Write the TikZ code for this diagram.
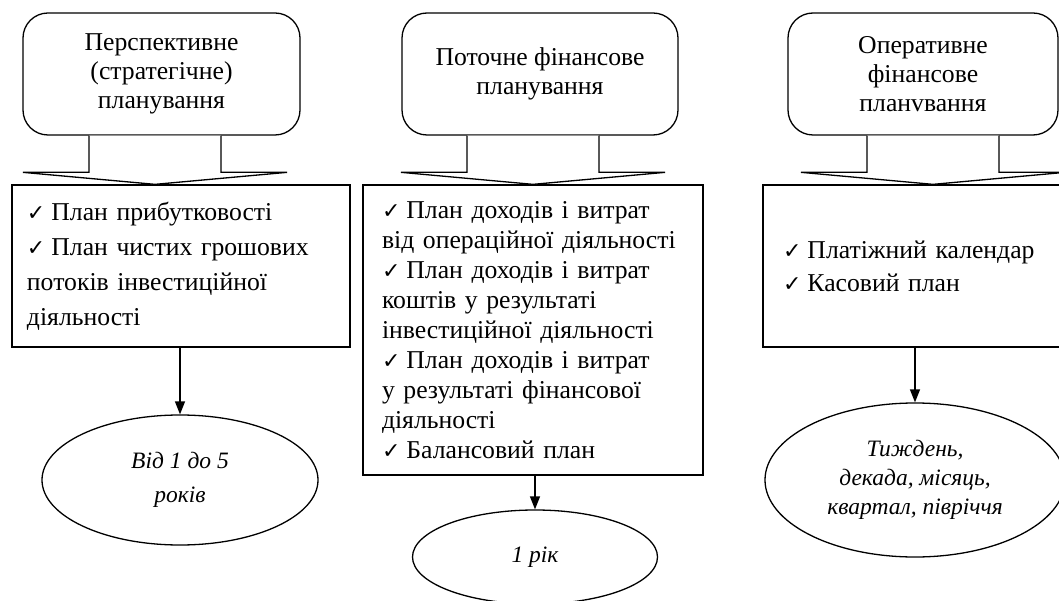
\documentclass[tikz,border=0pt]{standalone}
\usepackage{fontspec}
\setmainfont{Liberation Serif}
\newfontfamily\symfont{DejaVu Sans}
\usetikzlibrary{shapes.geometric,arrows.meta,calc}
\newcommand\ck{{\symfont\fontsize{22}{22}\selectfont ✓}\hspace{6pt}}
\begin{document}
\begin{tikzpicture}[x=1pt,y=-1pt,
  lw/.style={line width=1.3pt},
  topbox/.style={draw,lw,rounded corners=25pt,align=center,inner sep=0pt,
    minimum height=122pt,font=\fontsize{25.7}{29}\selectfont},
  listbox/.style={draw,lw,align=left,inner ysep=0pt},
  ellbox/.style={ellipse,draw,lw,inner sep=0pt,align=center},
  blockarr/.style={draw,lw,fill=white,line join=miter},
  arr/.style={lw,-{Triangle[length=13pt,width=10pt]}}]
\useasboundingbox (0,0) rectangle (1059,601);
\clip (0,0) rectangle (1059,601);

% top rounded boxes
\node[topbox,minimum width=277pt] (r1) at (161.5,74) {Перспективне\\(стратегічне)\\планування};
\node[topbox,minimum width=276pt] (r2) at (540,74) {Поточне фінансове\\планування};
\node[topbox,minimum width=270pt] (r3) at (923,74) {Оперативне\\фінансове\\планvвання};

% list boxes
\node[listbox,inner xsep=15pt,text width=308pt,minimum height=162pt,
  font=\fontsize{25.7}{35}\selectfont] (b1) at (181,266)
  {\ck План прибутковості\\\ck План чистих грошових\\потоків інвестиційної\\діяльності};
\node[listbox,inner xsep=19pt,text width=302pt,minimum height=290pt,
  font=\fontsize{25.7}{30}\selectfont] (b2) at (533,330)
  {\ck План доходів і витрат\\від операційної діяльності\\\ck План доходів і витрат\\коштів у результаті\\інвестиційної діяльності\\\ck План доходів і витрат\\у результаті фінансової\\діяльності\\\ck Балансовий план};
\node[listbox,inner xsep=20pt,text width=300pt,minimum height=162pt,
  font=\fontsize{25.7}{33}\selectfont] (b3) at (933,266)
  {\ck Платіжний календар\\\ck Касовий план};

% ellipses
\node[ellbox,minimum width=276pt,minimum height=130pt,
  font=\itshape\fontsize{23.5}{34}\selectfont] (e1) at (180,480) {Від 1 до 5\\років};
\node[ellbox,minimum width=245pt,minimum height=94pt,
  font=\itshape\fontsize{23.5}{30}\selectfont] (e2) at (535,557) {1 рік};
\node[ellbox,minimum width=300pt,minimum height=154pt,
  font=\itshape\fontsize{23.5}{29}\selectfont] (e3) at (915,480) {Тиждень,\\декада, місяць,\\квартал, півріччя};

% block arrows
\coordinate (t1) at (b1.north -| 155,0);
\coordinate (t2) at (b2.north);
\coordinate (t3) at (b3.north);
\foreach \t/\r in {t1/r1,t2/r2,t3/r3}{
  \draw[blockarr] ($(\r.south -| \t)+(-66,0)$) |- ($(\t)+(-132,-12)$) -- (\t)
    -- ($(\t)+(132,-12)$) -| ($(\r.south -| \t)+(66,0)$);
}

% arrows to ellipses
\draw[arr] (b1.south -| e1.north) -- (e1.north);
\draw[arr] (b2.south -| e2.north) -- (e2.north);
\draw[arr] (b3.south -| e3.north) -- (e3.north);
\end{tikzpicture}
\end{document}
